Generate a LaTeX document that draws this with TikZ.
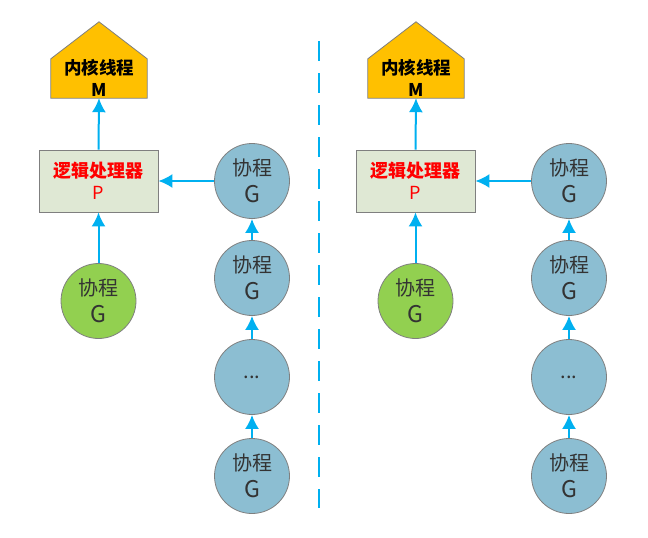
\documentclass[tikz,border=0pt]{standalone}
\usepackage{fontspec}
\newfontfamily\cjk{Noto Sans CJK SC}
\newfontfamily\cjklight{Noto Sans CJK SC}
\usetikzlibrary{arrows.meta,backgrounds}
\definecolor{arrowc}{HTML}{00B0F0}
\definecolor{penta}{HTML}{FFC000}
\definecolor{boxc}{HTML}{DFE8D4}
\definecolor{gcirc}{HTML}{92D050}
\definecolor{bcirc}{HTML}{8CBED2}
\definecolor{edgec}{HTML}{7F7F7F}
\definecolor{txtc}{HTML}{333333}
\newcommand{\bigG}{{\fontsize{23}{27}\selectfont G}}
\tikzset{
  conn/.style={draw=arrowc,line width=2pt,-{Latex[width=14pt,length=14pt]}},
  gbase/.style={circle,draw=edgec,line width=0.8pt,minimum size=75pt,inner sep=0pt,
    align=center,font=\cjk\fontsize{20}{27}\selectfont,text=txtc},
  greeng/.style={gbase,fill=gcirc},
  blueg/.style={gbase,fill=bcirc},
  pbox/.style={rectangle,draw=edgec,line width=0.8pt,fill=boxc,minimum width=119pt,
    minimum height=62pt,inner sep=0pt,align=center,
    font=\cjk\fontsize{18}{22}\selectfont,text=red},
  mbody/.style={rectangle,minimum width=96pt,minimum height=38pt,inner sep=0pt,
    align=center,font=\cjk\bfseries\fontsize{17.5}{22}\selectfont,text=black},
  pentashape/.style={draw=edgec,line width=0.8pt,fill=penta},
  divider/.style={draw=arrowc,line width=2pt,dash pattern=on 20pt off 12pt}
}
\begin{document}
\begin{tikzpicture}[x=1pt,y=-1pt]
\useasboundingbox (0,0) rectangle (648,538);
\foreach \s/\dx in {a/0,b/317}{
  \begin{scope}[xshift=\dx pt]
    \node[mbody] (M\s) at (99,78) {内核线程\\M};
    \begin{scope}[on background layer]
      \draw[pentashape] ([yshift=-1pt]M\s.south west) -- ([yshift=-1pt]M\s.south east) -- (M\s.north east)
        -- ([yshift=37pt]M\s.north) -- (M\s.north west) -- cycle;
    \end{scope}
    \node[pbox] (P\s) at (98.5,181) {{\bfseries 逻辑处理器}\\P};
    \node[greeng] (G\s) at (98.5,301) {协程\\\bigG};
    \node[blueg] (B1\s) at (252,181) {协程\\\bigG};
    \node[blueg] (B2\s) at (252,278) {协程\\\bigG};
    \node[blueg] (B3\s) at (252,377) {...};
    \node[blueg] (B4\s) at (252,476) {协程\\\bigG};
    \draw[conn] (P\s.north) -- ([yshift=-1pt]M\s.south);
    \draw[conn] (G\s.north) -- (P\s.south);
    \draw[conn] (B1\s.west) -- (P\s.east);
    \draw[conn] (B2\s.north) -- (B1\s.south);
    \draw[conn] (B3\s.north) -- (B2\s.south);
    \draw[conn] (B4\s.north) -- (B3\s.south);
  \end{scope}
}
\coordinate (dtop) at (319,41);
\coordinate (dbot) at (319,508);
\draw[divider] (dtop) -- (dbot);
\end{tikzpicture}
\end{document}
